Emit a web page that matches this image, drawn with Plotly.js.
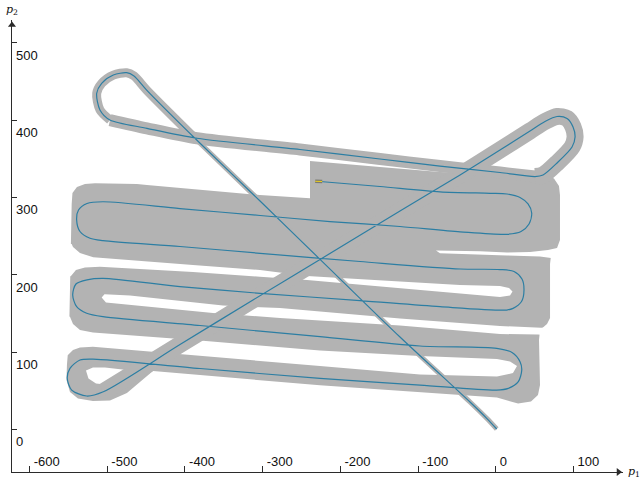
<!DOCTYPE html>
<html>
<head>
<meta charset="utf-8">
<script src="https://cdn.plot.ly/plotly-3.0.1.min.js"></script>
<style>
  html, body { margin: 0; padding: 0; background: #fff; }
  #plot { width: 640px; height: 478px; }
</style>
</head>
<body>
<div id="plot"></div>
<script>
// Planned path in the (p1, p2) plane, from the start pose to the origin.
const pathP1 = [
  -226.1, -148.9, -71.7, -7.3, 14.5, 31.3, 41.6, 46.3, 42.9, 32.6, 14.5,
  -45.9, -123.2, -213.3, -303.3, -406.3, -505.4, -526.0, -536.9, -539.3, -535.0, -522.1, -505.4,
  -406.3, -303.3, -174.6, -45.9, 5.5, 23.6, 33.8, 36.4, 33.2, 22.3, 14.2,
  -71.7, -174.6, -303.3, -406.3, -505.4, -526.0, -540.2, -544.4, -539.3, -526.4, -505.4,
  -380.6, -226.1, -97.4, 1.3, 21.0, 31.3, 33.5, 29.1, 16.2, 1.3,
  -97.4, -226.1, -380.6, -518.3, -535.0, -547.9, -551.4, -545.7, -526.4, -505.0,
  -406.3, -312.4, -226.1, -123.2, -45.9, 5.5, 44.1, 63.4, 78.9, 91.8, 99.5, 102.1, 98.2, 78.9, 60.9, 50.6,
  5.5, -71.7, -148.9, -251.9, -384.4, -448.8, -496.4,
  -509.3, -513.5, -507.1, -492.1, -474.9, -465.5, -449.2, -384.8, -303.3, -226.1, -123.2, -33.1, -11.6, 1.3
];
const pathP2 = [
  320.6, 314.1, 307.2, 305.3, 304.4, 299.9, 291.5, 279.8, 265.6, 255.9, 252.3,
  255.5, 262.4, 268.8, 276.6, 285.6, 294.4, 292.1, 283.7, 270.8, 255.9, 247.1, 244.0,
  236.5, 227.7, 217.1, 207.4, 206.7, 204.1, 194.4, 180.2, 165.3, 156.5, 154.3,
  158.6, 166.6, 175.9, 184.7, 195.3, 193.4, 188.0, 173.7, 158.6, 150.1, 145.7,
  134.3, 119.8, 107.8, 104.8, 99.4, 87.5, 76.7, 61.6, 53.0, 50.8,
  57.3, 66.0, 78.7, 90.9, 89.7, 78.9, 66.0, 50.8, 43.1, 48.6,
  109.7, 167.3, 219.7, 282.4, 329.0, 361.3, 385.9, 398.2, 404.7, 402.1, 391.1, 378.1, 365.2, 344.5, 329.0, 327.0,
  332.2, 340.6, 349.7, 362.0, 376.5, 389.4, 400.1,
  413.1, 434.7, 447.6, 458.3, 461.3, 457.1, 438.9, 374.3, 295.3, 219.9, 119.4, 35.3, 14.2, 0.4
];

// Outer boundary of the area swept along the back-and-forth passes.
const sweptP1 = [
  -545.7, -544.7, -538.9, -528.6, -515.7, -461.7, -448.8, -303.4, -239.0, -239.0, -148.9, -71.7, 5.5,
  41.5, 63.4, 75.0, 81.4, 82.7, 82.7, 78.9, 71.1, 69.9, 69.9, 66.0, 57.0, 55.7, 57.0, 54.4, 45.4, 28.7,
  1.6, -97.5, -226.2, -441.1, -474.6, -496.4, -518.3, -537.6, -547.9, -552.4, -551.8, -549.2, -547.9, -546.6
];
const sweptP2 = [
  291.5, 305.7, 313.5, 317.4, 318.3, 317.4, 316.1, 303.1, 298.9, 347.1, 339.4, 332.9, 329.7,
  331.6, 330.3, 324.5, 314.8, 303.1, 244.9, 234.6, 224.2, 213.9, 144.0, 136.2, 128.5, 115.5, 57.3, 44.4, 36.0, 33.4,
  41.2, 48.3, 56.9, 75.4, 47.0, 37.3, 36.6, 39.9, 48.3, 63.8, 83.2, 115.5, 167.3, 244.9
];

// Uncovered strips between neighbouring passes (null separates strips).
const gapP1 = [
  -76.9, -20.2, 14.5, 44.1, 67.3, 78.9, 89.2, 89.2, 71.1, 57.0, 14.5, -20.2, -71.7, null,
  -560.8, -545.7, -544.0, -535.0, -517.9, -474.9, -389.6, -303.4, -242.9, -123.2, -46.0, 5.5, 17.1, 21.6, 18.4,
  5.5, -46.0, -123.2, -242.9, -303.4, -389.6, -509.3, -528.6, -540.2, -546.6, -560.8, null,
  -507.1, -503.5, -470.7, -351.0, -277.6, -123.2, 5.5, 44.1, 58.3, 82.7,
  82.7, 54.4, 5.5, -123.2, -277.6, -363.9, -487.4, -501.6, null,
  -560.8, -547.9, -544.0, -535.0, -518.3, -380.6, -226.2, -97.5, 1.6, 18.4, 27.4, 22.2, 1.6,
  -97.5, -226.2, -380.6, -518.3, -535.0, -544.0, -550.5, -560.8, null,
  -527.3, -518.3, -502.9, -477.1, -457.8, -483.6, -502.9, -514.4, -524.1
];
const gapP2 = [
  231.3, 230.3, 228.6, 229.4, 232.0, 234.6, 234.6, 223.0, 221.6, 223.6, 224.9, 226.2, 227.7, null,
  241.0, 239.7, 235.9, 228.1, 222.5, 219.0, 212.6, 206.1, 198.3, 191.2, 186.7, 185.4, 182.8, 178.3, 173.1,
  171.2, 175.7, 182.2, 193.2, 197.4, 203.5, 210.4, 209.3, 206.1, 198.3, 193.2, null,
  170.5, 174.7, 173.1, 160.2, 156.9, 143.4, 133.7, 131.7, 131.3, 132.4,
  120.7, 122.7, 123.3, 134.3, 144.0, 150.5, 162.1, 164.1, null,
  147.9, 145.7, 136.2, 128.5, 125.2, 114.9, 102.0, 94.8, 91.0, 87.7, 81.9, 72.8, 68.3,
  70.9, 81.9, 94.8, 106.9, 105.8, 102.6, 96.1, 93.5, null,
  76.1, 80.0, 80.0, 77.4, 74.8, 62.5, 58.0, 59.3, 65.7
];

// Swept width along the remaining stretches: [first index, last index, width in px]
const sweepSegments = [
  [64, 80, 17],
  [80, 87, 12],
  [87, 95, 9],
  [95, 101, 5]
];

// Vehicle footprint at the start pose
const vehicleP1 = [-232.3, -223.3];
const vehicleP2 = [320.9, 320.6];

const xRange = [-622.5, 163.8];
const yRange = [-55.2, 529.5];
const xTicks = [-600, -500, -400, -300, -200, -100, 0, 100];
const yTicks = [0, 100, 200, 300, 400, 500];
// Arrowhead positions at the open ends of the axes
const arrowP1 = [158.0, xRange[0]];
const arrowP2 = [yRange[0], 523.0];

const SWEEP = '#b3b3b3';
const PATH = '#2c7ea3';
const AXIS = '#2b2b2b';

const traces = [
  { type: 'scatter', mode: 'lines', x: sweptP1, y: sweptP2, fill: 'toself',
    fillcolor: SWEEP, line: { width: 0, color: SWEEP }, hoverinfo: 'skip', showlegend: false },
  { type: 'scatter', mode: 'lines', x: gapP1, y: gapP2, fill: 'toself', connectgaps: false,
    fillcolor: '#ffffff', line: { width: 0, color: '#ffffff' }, hoverinfo: 'skip', showlegend: false }
];
sweepSegments.forEach(([a, b, w]) => {
  traces.push({
    type: 'scatter', mode: 'lines',
    x: pathP1.slice(a, b + 1), y: pathP2.slice(a, b + 1),
    line: { color: SWEEP, width: w, shape: 'spline', smoothing: 0.8 },
    hoverinfo: 'skip', showlegend: false
  });
});
traces.push({
  type: 'scatter', mode: 'lines',
  x: pathP1, y: pathP2,
  line: { color: PATH, width: 1.2, shape: 'spline', smoothing: 0.8 },
  hoverinfo: 'skip', showlegend: false
});
traces.push({
  type: 'scatter', mode: 'lines', x: vehicleP1, y: vehicleP2,
  line: { color: '#7a7a72', width: 3.5 }, hoverinfo: 'skip', showlegend: false
});
traces.push({
  type: 'scatter', mode: 'lines', x: vehicleP1, y: vehicleP2,
  line: { color: '#f2d21b', width: 1 }, hoverinfo: 'skip', showlegend: false
});
traces.push({
  type: 'scatter', mode: 'markers', x: arrowP1, y: arrowP2,
  marker: { symbol: ['triangle-right', 'triangle-up'], size: 7, color: AXIS, line: { width: 0 } },
  cliponaxis: false, hoverinfo: 'skip', showlegend: false
});

const tickFont = { family: 'Liberation Sans, Arial, sans-serif', size: 13, color: '#111' };

// p2 tick labels sit just below each tick, inside the axes
const yLabelNotes = yTicks.map(v => ({
  xref: 'paper', yref: 'y', x: 0, y: v, xanchor: 'left', yanchor: 'top',
  xshift: 2, yshift: -3, text: String(v), showarrow: false, font: tickFont
}));

const layout = {
  width: 640, height: 478,
  margin: { l: 12, r: 17, t: 20, b: 6, pad: 0 },
  paper_bgcolor: '#fff', plot_bgcolor: '#fff',
  showlegend: false,
  xaxis: {
    range: xRange, showgrid: false, zeroline: false,
    showline: true, linecolor: AXIS, linewidth: 1.3,
    ticks: 'inside', ticklen: 6, tickwidth: 1, tickcolor: AXIS,
    tickvals: xTicks, ticktext: xTicks.map(String),
    ticklabelposition: 'inside right', ticklabelshift: 3, ticklabeloverflow: 'allow',
    tickfont: tickFont
  },
  yaxis: {
    range: yRange, showgrid: false, zeroline: false,
    showline: true, linecolor: AXIS, linewidth: 1.3,
    ticks: 'inside', ticklen: 5, tickwidth: 1, tickcolor: AXIS,
    tickvals: yTicks, showticklabels: false
  },
  annotations: [
    { xref: 'paper', yref: 'paper', x: 1, y: 0, xanchor: 'left', yanchor: 'middle', xshift: 3,
      text: '<i>p</i><sub>1</sub>', showarrow: false,
      font: { family: 'DejaVu Serif, Liberation Serif, serif', size: 11, color: '#111' } },
    { xref: 'paper', yref: 'paper', x: 0, y: 1, xanchor: 'center', yanchor: 'bottom', yshift: 1,
      text: '<i>p</i><sub>2</sub>', showarrow: false,
      font: { family: 'DejaVu Serif, Liberation Serif, serif', size: 11, color: '#111' } }
  ].concat(yLabelNotes)
};

Plotly.newPlot('plot', traces, layout, { staticPlot: true, displayModeBar: false });
</script>
</body>
</html>
